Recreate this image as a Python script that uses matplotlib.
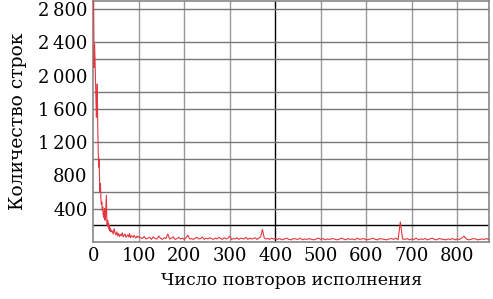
import numpy as np
import matplotlib.pyplot as plt

# начало: по одному значению на каждый повтор (1..40)
head = [2900, 2100, 2380, 2200, 1950, 1700, 1500, 1650, 1900, 1400,
        1100, 900, 1000, 750, 600, 700, 520, 450, 480, 380,
        420, 330, 360, 290, 400, 260, 300, 420, 560, 240,
        200, 260, 180, 220, 150, 190, 130, 160, 120, 140]
# 42..100 шаг 2
mid = [130, 95, 160, 110, 85, 120, 70, 100, 65, 90,
       75, 110, 60, 80, 95, 55, 70, 85, 60, 100,
       50, 75, 65, 55, 80, 60, 45, 70, 55, 65]
# 104..400 шаг 4
tail1 = [50, 40, 65, 35, 45, 55, 30, 60, 40, 35, 70, 45, 30, 50, 40,
         95, 35, 45, 60, 30, 40, 55, 35, 45, 30, 50, 80, 35, 40, 30,
         45, 55, 35, 40, 60, 30, 45, 35, 50, 40, 30, 45, 35, 55, 40,
         30, 50, 35, 45, 70, 30, 40, 35, 50, 30, 45, 40, 35, 55, 30,
         45, 35, 40, 50, 30, 45, 60, 150, 45, 35, 40, 30, 45, 35, 40]
# 405..880 шаг 5
tail2 = [30, 40, 25, 35, 45, 30, 25, 40, 35, 30, 45, 25, 35, 30, 40,
         30, 25, 35, 45, 30, 40, 25, 35, 30, 40, 35, 25, 30, 45, 35,
         25, 40, 30, 35, 25, 45, 30, 35, 40, 25, 30, 35, 45, 30, 25,
         40, 35, 30, 25, 35, 40, 30, 45, 25, 240, 35, 30, 40, 25, 35,
         30, 45, 25, 35, 30, 40, 25, 35, 45, 30, 25, 40, 35, 30, 25,
         35, 30, 40, 25, 35, 30, 45, 70, 35, 25, 30, 40, 35, 25, 30,
         35, 30, 40, 25, 35, 30]

x = np.concatenate([np.arange(1, 1 + len(head)),
                    np.arange(42, 42 + 2 * len(mid), 2),
                    np.arange(104, 104 + 4 * len(tail1), 4),
                    np.arange(405, 405 + 5 * len(tail2), 5)])
y = np.array(head + mid + tail1 + tail2)

xticks = [0, 100, 200, 300, 400, 500, 600, 700, 800]
yticks = [400, 800, 1200, 1600, 2000, 2400, 2800]
ygrid = [200, 400, 600, 1000, 1200, 1600, 1800, 2200, 2400, 2800]

plt.rcParams['font.family'] = ['DejaVu Serif']
fig = plt.figure(figsize=(4.93, 2.99), dpi=100)
ax = fig.add_axes([0.189, 0.191, 0.803, 0.806])

for v in xticks[1:]:
    ax.axvline(v, color='black' if v == 400 else '#999999', lw=1.0, zorder=1)
for v in ygrid:
    ax.axhline(v, color='black' if v == 200 else '#777777', lw=1.0, zorder=1)

ax.plot(x, y, color='#e4363e', lw=0.8, zorder=3)

ax.set_xlim(0, 870)
ax.set_ylim(0, 2900)
ax.set_xticks(xticks)
ax.set_yticks(yticks)
ax.set_yticklabels([f"{v:,}".replace(",", "\u2009") for v in yticks])
ax.tick_params(length=0, labelsize=13, pad=4)
for s in ax.spines.values():
    s.set_color('#888888')
    s.set_linewidth(1.2)
ax.set_xlabel('Число повторов исполнения', fontsize=12.5, labelpad=5)
ax.set_ylabel('Количество строк', fontsize=13.5, labelpad=8)

fig.savefig('out.png', dpi=100)
